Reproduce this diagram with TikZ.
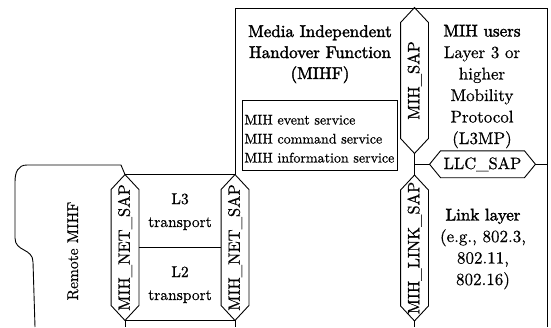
\documentclass[tikz,border=0pt]{standalone}
\usepackage{fontspec}
\usepackage{graphicx}
\setmainfont[FakeBold=0.5]{lmroman10-regular.otf}
\newfontface\heavy[FakeBold=2]{lmroman10-regular.otf}
\usetikzlibrary{calc}

\begin{document}
\begin{tikzpicture}[x=1pt, y=-1pt, line width=0.9pt,
  every node/.style={inner sep=0pt},
  title/.style={align=center, font=\heavy\fontsize{17}{21}\selectfont},
  body/.style={align=center, font=\fontsize{17}{21.5}\selectfont},
  transp/.style={align=center, font=\fontsize{15.5}{23}\selectfont},
  saplabel/.style={font=\fontsize{16.5}{18}\selectfont},
  vsap/.style={saplabel, minimum width=27pt, text height=57.5pt, text depth=57.5pt},
  hsap/.style={saplabel, minimum width=83pt, minimum height=26pt},
  svcbox/.style={draw, line width=0.7pt, minimum width=155pt, minimum height=70pt},
  svctext/.style={align=left, font=\fontsize{14}{19}\selectfont}
]
\useasboundingbox (0,0) rectangle (551,327);

% corner and edge points of the frame
\coordinate (tl) at (235,8);
\coordinate (tr) at (547,8);
\coordinate (br) at (547,327);
\coordinate (bottom) at (0,327);

% service access points drawn as upright hexagons
\node[vsap] (ns1) at (125,247.5) {\raisebox{-0.5\height}{\rotatebox{90}{MIH\_NET\_SAP}}};
\node[vsap] (ns2) at (235,247.5) {\raisebox{-0.5\height}{\rotatebox{90}{MIH\_NET\_SAP}}};
\node[vsap] (ms)  at (414.5,80.5) {\raisebox{-0.5\height}{\rotatebox{90}{MIH\_SAP}}};
\node[vsap] (ls)  at (414.5,248) {\raisebox{-0.5\height}{\rotatebox{90}{MIH\_LINK\_SAP}}};

\foreach \n in {ns1,ns2,ms,ls}
  \draw (\n.north west) -- ([yshift=15pt]\n.north) coordinate (\n-top)
     -- (\n.north east) -- (\n.south east)
     -- ([yshift=-15pt]\n.south) coordinate (\n-bot)
     -- (\n.south west) -- cycle;

% LLC_SAP lies on its side between the two upper layers
\coordinate (j) at ($(ms-bot)!0.5!(ls-top)$);
\node[hsap] (llc) at ($(j)+(68,0)$) {LLC\_SAP};
\draw (llc.north west) -- ([xshift=-11pt]llc.west) coordinate (llc-l)
   -- (llc.south west) -- (llc.south east)
   -- ([xshift=11pt]llc.east) coordinate (llc-r)
   -- (llc.north east) -- cycle;

% frame of the local stack
\draw (ns2-top) -- (tl) -- (tr) -- (br);
\draw (ms-bot) -- (ls-top);
\draw (j) -- (llc-l);
\draw (llc-r) -- (llc-r -| br);
\draw (ls-bot) -- (ls-bot |- bottom);

% transport boxes between the two MIH_NET_SAPs
\draw (ns1-top) -- (ns2-top);
\draw (ns1.east) -- (ns2.west);
\draw (ns1-bot) -- (ns2-bot);
\draw (ns1-bot) -- (ns1-bot |- bottom);
\draw (ns2-bot) -- (ns2-bot |- bottom);

% remote MIHF outline
\draw (ns1-top) -- (121,165) -- (27,165)
  .. controls (18,165) and (15,172) .. (15,182) -- (15,238)
  .. controls (15,252) and (33,248) .. (33,262) -- (35,327);

% texts (base anchors sit on the last line of each block)
\node[title, anchor=base] (mihf) at (320,79) {Media Independent\\Handover Function\\(MIHF)};
\node[svcbox] (svc) at (319.5,135) {};
\node[svctext, anchor=base west] (svct) at (244,162.5) {MIH event service\\MIH command service\\MIH information service};
\node[body, anchor=base] (users) at (482,144) {{\heavy MIH users}\\Layer 3 or\\higher\\Mobility\\Protocol\\(L3MP)};
\node[body, anchor=base] (link) at (483,285) {{\heavy Link layer}\\(e.g., 802.3,\\802.11,\\802.16)};
\node[transp, anchor=base] (l3) at (180,227) {L3\\transport};
\node[transp, anchor=base] (l2) at (180,300) {L2\\transport};
\node[font=\fontsize{15.5}{18}\selectfont, rotate=90, anchor=base] (remote) at (78,251) {Remote MIHF};
\end{tikzpicture}
\end{document}
